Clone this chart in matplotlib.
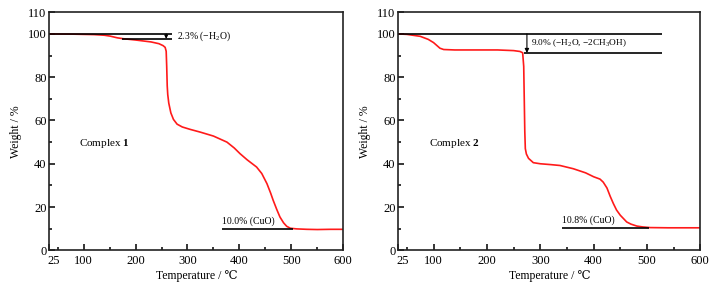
import numpy as np
import matplotlib
matplotlib.use('Agg')
import matplotlib.pyplot as plt
from matplotlib.transforms import ScaledTranslation

plt.rcParams['font.family'] = ['Liberation Serif', 'DejaVu Serif']
plt.rcParams['mathtext.fontset'] = 'custom'
plt.rcParams['mathtext.rm'] = 'Liberation Serif'
plt.rcParams['mathtext.bf'] = 'Liberation Serif:bold'

# TGA curves (temperature in C, weight in %)
temp1 = [34, 80, 120, 140, 151, 165, 176, 200, 230, 245, 253, 257, 259, 260, 261,
         262, 264, 268, 273, 280, 290, 305, 325, 350, 376, 390, 401, 415, 433,
         443, 453, 460, 465, 472, 478, 485, 491, 498, 510, 530, 550, 575, 600]
weight1 = [100, 99.9, 99.7, 99.4, 99.0, 98.2, 97.8, 97.2, 96.3, 95.5, 94.6, 93.8,
           92.0, 85.0, 76.0, 72.0, 68.0, 63.5, 60.5, 58.3, 57.0, 55.9, 54.6, 52.8,
           50.0, 47.3, 44.7, 41.8, 38.5, 35.5, 30.8, 26.5, 23.1, 18.8, 15.4, 12.7,
           11.1, 10.2, 9.9, 9.7, 9.6, 9.7, 9.7]
temp2 = [34, 50, 75, 90, 100, 112, 119, 140, 180, 220, 250, 262, 267, 269, 270,
         271, 272, 274, 278, 287, 300, 320, 337, 362, 385, 400, 412, 418, 425,
         431, 437, 443, 450, 462, 470, 481, 492, 506, 540, 600]
weight2 = [100, 99.8, 98.9, 97.5, 96.0, 93.4, 92.8, 92.6, 92.6, 92.6, 92.3, 91.9,
           91.3, 85.0, 70.0, 55.0, 47.0, 44.5, 42.5, 40.5, 40.0, 39.6, 39.2, 37.7,
           35.8, 34.0, 32.9, 31.5, 28.8, 25.0, 21.6, 18.6, 16.2, 13.1, 12.1, 11.2,
           10.8, 10.5, 10.4, 10.4]

# annotations: (step from, step to, text) and residue
loss1 = [100, 97.7, '2.3% (\u2212H$_\\mathregular{2}$O)']
loss2 = [100, 91.2, '9.0% (\u2212H$_\\mathregular{2}$O, \u22122CH$_\\mathregular{3}$OH)']
res1 = [9.7, '10.0% (CuO)']
res2 = [10.2, '10.8% (CuO)']

xticks = [34, 100, 200, 300, 400, 500, 600]
xticklabels = ['25', '100', '200', '300', '400', '500', '600']

fig = plt.figure(figsize=(7.22, 2.93), dpi=100)
ax1 = fig.add_axes([0.0683, 0.1457, 0.4072, 0.8123])
ax2 = fig.add_axes([0.5517, 0.1457, 0.4183, 0.8123])

for ax in (ax1, ax2):
    ax.set_xlim(34, 600)
    ax.set_ylim(0, 110)
    ax.set_xticks(xticks)
    ax.set_xticklabels(xticklabels)
    ax.set_xticks([50, 150, 250, 350, 450, 550], minor=True)
    ax.set_yticks([0, 20, 40, 60, 80, 100, 110])
    ax.set_yticks([10, 30, 50, 70, 90], minor=True)
    ax.tick_params(which='both', direction='in', top=False, right=False,
                   labelsize=9, width=1.1)
    ax.tick_params(axis='x', pad=3.5)
    ax.tick_params(axis='y', pad=2)
    ax.tick_params(which='major', length=4)
    ax.tick_params(which='minor', length=2.5)
    for s in ax.spines.values():
        s.set_linewidth(1.2)
        s.set_color('#222222')
    ax.set_xlabel('Temperature / \u2103', fontsize=8.5, labelpad=2)
    ax.set_ylabel('Weight / %', fontsize=8.5, labelpad=4)
    # first x label sits a little right of the corner, as in the original
    lab = ax.get_xticklabels()[0]
    lab.set_transform(lab.get_transform() + ScaledTranslation(3 / 72, 0, fig.dpi_scale_trans))

# panel 1
ax1.plot(temp1, weight1, color='#ff1a1a', lw=1.2)
ax1.hlines(loss1[0], 34, 270, color='black', lw=1.2)
ax1.hlines(loss1[1], 174, 270, color='black', lw=1.2)
ax1.annotate('', xy=(259, loss1[1]), xytext=(259, loss1[0]),
             arrowprops=dict(arrowstyle='-|>', color='black', lw=0.8,
                             mutation_scale=5, shrinkA=0, shrinkB=0))
ax1.text(279, 98.9, loss1[2], fontsize=7, va='center', ha='left')
ax1.hlines(res1[0], 366, 503, color='black', lw=1.2)
ax1.text(366, res1[0] + 1.5, res1[1], fontsize=7, va='bottom', ha='left')
ax1.text(92, 49.4, 'Complex $\\mathbf{1}$', fontsize=8, va='center', ha='left')

# panel 2
ax2.plot(temp2, weight2, color='#ff1a1a', lw=1.2)
ax2.hlines(loss2[0], 34, 528, color='black', lw=1.2)
ax2.hlines(loss2[1], 269, 528, color='black', lw=1.2)
ax2.annotate('', xy=(275, loss2[1]), xytext=(275, loss2[0]),
             arrowprops=dict(arrowstyle='-|>', color='black', lw=0.8,
                             mutation_scale=6, shrinkA=0, shrinkB=0))
ax2.text(282, 95.7, loss2[2], fontsize=6.7, va='center', ha='left')
ax2.hlines(res2[0], 340, 503, color='black', lw=1.2)
ax2.text(340, res2[0] + 1.5, res2[1], fontsize=7, va='bottom', ha='left')
ax2.text(92, 49.4, 'Complex $\\mathbf{2}$', fontsize=8, va='center', ha='left')

fig.savefig('out.png', dpi=100)
